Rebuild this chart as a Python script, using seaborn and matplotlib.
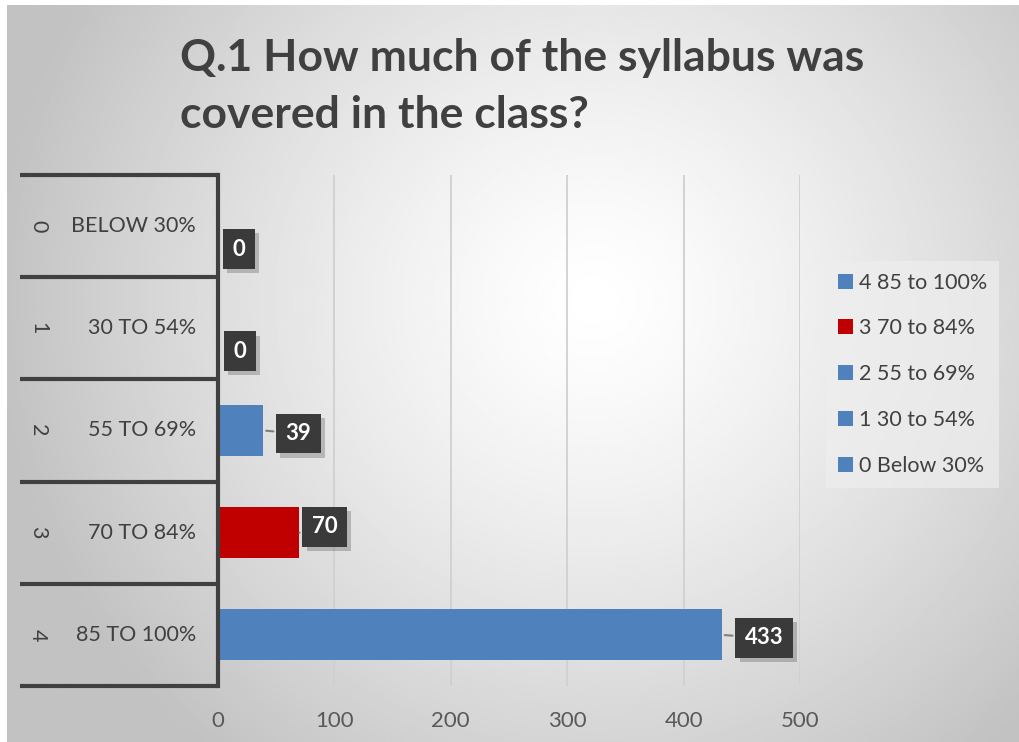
import numpy as np
import pandas as pd
import seaborn as sns
import matplotlib.pyplot as plt
from matplotlib.patches import Patch
import matplotlib.transforms as mtransforms
import matplotlib.patheffects as pe

# data
codes = ["0", "1", "2", "3", "4"]
row_labels = ["BELOW 30%", "30 TO 54%", "55 TO 69%", "70 TO 84%", "85 TO 100%"]
legend_labels = ["0 Below 30%", "1 30 to 54%", "2 55 to 69%", "3 70 to 84%", "4 85 to 100%"]
counts = [0, 0, 39, 70, 433]
bar_colors = ["#4F81BD", "#4F81BD", "#4F81BD", "#C00000", "#4F81BD"]
x_ticks = [0, 100, 200, 300, 400, 500]

TEXT = "#404040"
TICK = "#595959"

sns.set_theme(style="white")
plt.rcParams["font.family"] = ["Lato", "DejaVu Sans"]

W, H = 1020, 742
fig = plt.figure(figsize=(W / 100, H / 100), dpi=100)
fig.patch.set_facecolor("white")

# --- gray radial background like the excel chart area ---
bg = fig.add_axes([7 / W, 0, 1 - 7 / W, 1 - 5 / H], zorder=-5)
gy, gx = np.mgrid[0:1:300j, 0:1:400j]
dist = np.sqrt(((gx - 0.58) * 1.35) ** 2 + (gy - 0.40) ** 2)
shade = np.clip(1.0 - 0.32 * dist ** 1.3, 0.76, 1.0)
bg.imshow(shade, cmap="gray", vmin=0, vmax=1, aspect="auto", extent=[0, 1, 1, 0])
bg.axis("off")

# --- main bar axes ---
left, right, top, bottom = 218, 800, 175, 686
ax = fig.add_axes([left / W, 1 - bottom / H, (right - left) / W, (bottom - top) / H])
ax.set_facecolor("none")

df = pd.DataFrame({"code": codes, "count": counts})
sns.barplot(data=df, x="count", y="code", hue="code", palette=bar_colors,
            orient="h", width=0.5, legend=False, saturation=1, linewidth=0, ax=ax)

ax.set_xlim(0, 500)
ax.set_ylim(4.5, -0.5)
ax.set_xticks(x_ticks)
ax.set_xticklabels([str(t) for t in x_ticks], fontsize=16, color=TICK)
ax.tick_params(axis="x", length=0, pad=18)
ax.set_yticks([])
ax.set_xlabel("")
ax.set_ylabel("")
ax.xaxis.grid(True, color="#D0D0D0", linewidth=1.3)
ax.set_axisbelow(True)
for s in ["top", "right", "bottom"]:
    ax.spines[s].set_visible(False)
ax.spines["left"].set_color(TEXT)
ax.spines["left"].set_linewidth(3)

# --- multi-level category table on the left ---
trans = mtransforms.blended_transform_factory(ax.transAxes, ax.transData)
x0 = (20 - left) / (right - left)
for b in np.arange(-0.5, 5.0, 1.0):
    ax.plot([x0, 0], [b, b], color=TEXT, linewidth=3, transform=trans,
            clip_on=False, solid_capstyle="butt")
num_x = (38 - left) / (right - left)
lab_x = (196 - left) / (right - left)
for i, (c, lab) in enumerate(zip(codes, row_labels)):
    ax.text(num_x, i, c, transform=trans, rotation=-90, ha="center", va="center",
            fontsize=15.5, color=TEXT)
    ax.text(lab_x, i, lab, transform=trans, ha="right", va="center",
            fontsize=15.5, color=TEXT)

# --- data labels in dark boxes (with a soft shadow) ---
label_offsets = [(21, -23), (22, -23), (35, -3), (25, 6), (42, -3)]
for i, (v, (dx, dy)) in enumerate(zip(counts, label_offsets)):
    lead = dict(arrowstyle="-", color="#7F7F7F", lw=1.5) if v > 0 else None
    t = ax.annotate(str(v), xy=(v, i), xytext=(dx, dy), textcoords="offset pixels",
                    ha="center", va="center", fontsize=16, fontweight="bold",
                    color="white", arrowprops=lead,
                    bbox=dict(boxstyle="square,pad=0.42", facecolor="#3A3A3A",
                              edgecolor="none"))
    t.get_bbox_patch().set_path_effects(
        [pe.SimplePatchShadow(offset=(3, -3), shadow_rgbFace="black", alpha=0.2),
         pe.Normal()])

# --- legend ---
handles = [Patch(facecolor=bar_colors[i], edgecolor="none", label=legend_labels[i])
           for i in range(4, -1, -1)]
fig.legend(handles=handles, loc="upper left", bbox_to_anchor=(815 / W, 1 - 250 / H),
           frameon=True, facecolor="#EEEEEE", edgecolor="none", framealpha=0.7,
           fontsize=15.5, labelcolor=TEXT, handlelength=0.7, handleheight=0.7,
           handletextpad=0.3, labelspacing=1.2, borderpad=0.55, fancybox=False)

# --- title ---
fig.text(180 / W, 1 - 58 / H, "Q.1 How much of the syllabus was", fontsize=32,
         fontweight="bold", color=TEXT, ha="left", va="center")
fig.text(180 / W, 1 - 115 / H, "covered in the class?", fontsize=32,
         fontweight="bold", color=TEXT, ha="left", va="center")

fig.savefig("out.png", dpi=100)
